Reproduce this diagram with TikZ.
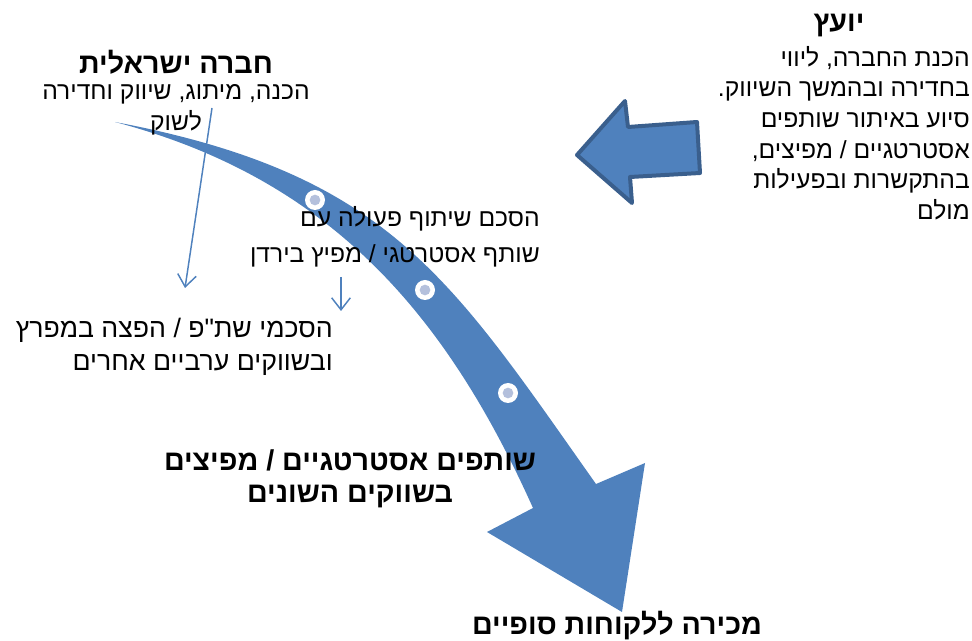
\documentclass[tikz,border=0pt]{standalone}
\usepackage{xcolor}
\usepackage{fontspec}
\usepackage{tikz}
\usetikzlibrary{arrows.meta}
\newfontfamily\hebfont[Script=Hebrew]{Liberation Sans}
\TeXXeTstate=1
\newcommand{\heb}[1]{\beginR #1\endR}
\definecolor{flowblue}{HTML}{4F81BD}
\definecolor{flowedge}{HTML}{3A5F8D}
\definecolor{dotgrey}{HTML}{B4C0DC}

\tikzset{
	hebtext/.style={font=\hebfont\fontsize{18.5}{23}\selectfont, inner sep=0pt},
	hebhead/.style={font=\hebfont\bfseries\fontsize{21.5}{24}\selectfont, inner sep=0pt},
	thinarrow/.style={draw=flowblue, line width=1.1pt, -{Straight Barb[length=9pt, width=14pt]}},
	stepdot/.style={circle, fill=white, minimum size=15pt, inner sep=0pt},
	stepcore/.style={circle, fill=dotgrey, minimum size=8pt, inner sep=0pt}
}

\begin{document}
\begin{tikzpicture}[x=0.75pt, y=-0.75pt]
	\useasboundingbox (0,0) rectangle (972,641);
	% Curved flow arrow:
	\fill[flowblue] (115,122) .. controls (390,174) and (451,279) .. (596,484)
		-- (645,463) -- (622,612) -- (487,532) -- (533,508)
		.. controls (445,312) and (328,178) .. (115,122) -- cycle;
	\node[stepdot] (D1) at (315,200) {}; \node[stepcore] at (D1) {};
	\node[stepdot] (D2) at (425,290) {}; \node[stepcore] at (D2) {};
	\node[stepdot] (D3) at (508,393) {}; \node[stepcore] at (D3) {};
	% Block arrow of the consultant:
	\draw[fill=flowblue, draw=flowedge, line width=3pt, line join=round] (577,155) -- (625,101) -- (628,127) -- (697,122) -- (700,173) -- (630,177) -- (632,203) -- cycle;
	% Texts:
	\node[hebhead] (yoetzHead) at (839,26) {\heb{יועץ}};
	\node[hebtext, anchor=north east, align=right] (yoetzText) at (970,46) {\heb{הכנת החברה, ליווי}\\ \heb{בחדירה ובהמשך השיווק.}\\ \heb{סיוע באיתור שותפים}\\ \heb{אסטרטגיים / מפיצים,}\\ \heb{בהתקשרות ובפעילות}\\ \heb{מולם}};
	\node[hebhead] (companyHead) at (176,62) {\heb{חברה ישראלית}};
	\node[hebtext, align=center, font=\hebfont\fontsize{18.5}{23.5}\selectfont] (companyText) at (176,110) {\heb{הכנה, מיתוג, שיווק וחדירה}\\ \heb{לשוק}};
	\node[hebtext, anchor=east, align=right, font=\hebfont\fontsize{18.5}{27}\selectfont] (jordanText) at (540,237) {\heb{הסכם שיתוף פעולה עם}\\ \heb{שותף אסטרטגי / מפיץ בירדן}};
	\node[hebtext, anchor=east, align=right, font=\hebfont\fontsize{20}{25}\selectfont] (gulfText) at (333,347) {\heb{הסכמי שת"פ / הפצה במפרץ}\\ \heb{ובשווקים ערביים אחרים}};
	\node[hebhead, align=center] (partnersText) at (350,479) {\heb{שותפים אסטרטגיים / מפיצים}\\ \heb{בשווקים השונים}};
	\node[hebhead] (salesText) at (617,626) {\heb{מכירה ללקוחות סופיים}};
	% Thin arrows:
	\coordinate (companyFoot) at (212,108);
	\coordinate (gulfTop) at (185,288);
	\coordinate (jordanFoot) at (341,277);
	\coordinate (gulfTopB) at (341,311);
	\draw[thinarrow] (companyFoot) -- (gulfTop);
	\draw[thinarrow] (jordanFoot) -- (gulfTopB);
\end{tikzpicture}
\end{document}
